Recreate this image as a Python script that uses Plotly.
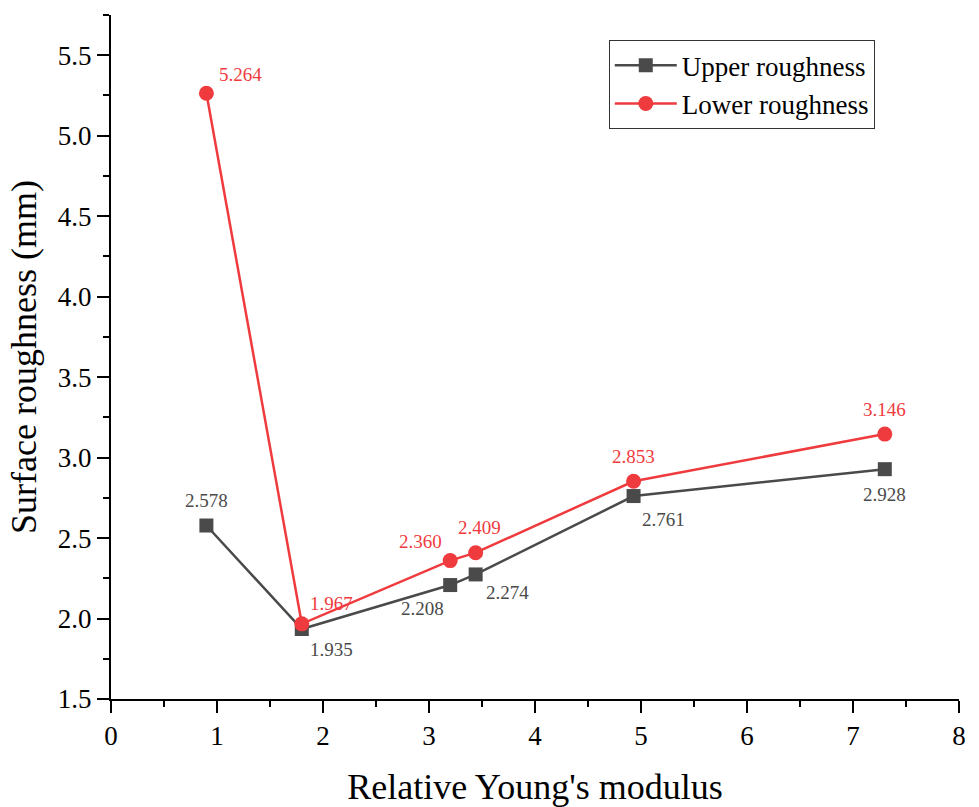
import plotly.graph_objects as go

# Relative Young's modulus and measured surface roughness
modulus = [0.9, 1.8, 3.2, 3.44, 4.93, 7.3]
upper_roughness = [2.578, 1.935, 2.208, 2.274, 2.761, 2.928]
lower_roughness = [5.264, 1.967, 2.360, 2.409, 2.853, 3.146]

GRAY = "#4a4a4a"
RED = "#ef3b3e"
FONT = "Liberation Serif, Times New Roman, serif"

fig = go.Figure()
fig.add_trace(go.Scatter(
    x=modulus, y=upper_roughness, mode="lines+markers", name="Upper roughness",
    line=dict(color=GRAY, width=2.5),
    marker=dict(symbol="square", size=14, color=GRAY),
))
fig.add_trace(go.Scatter(
    x=modulus, y=lower_roughness, mode="lines+markers", name="Lower roughness",
    line=dict(color=RED, width=2.5),
    marker=dict(symbol="circle", size=15, color=RED),
))

# value labels: pixel offsets (dx, dy) from each point
upper_offsets = [(0, 25), (30, -21), (-28, -23), (32, -18), (30, -23), (0, -25)]
lower_offsets = [(34, 19), (30, 20), (-30, 19), (4, 25), (0, 25), (0, 25)]

for xs, ys, offs, color in [
    (modulus, upper_roughness, upper_offsets, GRAY),
    (modulus, lower_roughness, lower_offsets, RED),
]:
    for xv, yv, (dx, dy) in zip(xs, ys, offs):
        fig.add_annotation(
            x=xv, y=yv, text=f"{yv:.3f}", showarrow=False,
            xshift=dx, yshift=dy,
            font=dict(family=FONT, size=19, color=color),
        )

axis_common = dict(
    showline=True, linecolor="black", linewidth=2,
    ticks="outside", ticklen=12, tickwidth=2, tickcolor="black",
    showgrid=False, zeroline=False, mirror=False,
    tickfont=dict(family=FONT, size=27, color="black"),
    title_font=dict(family=FONT, size=36, color="black"),
    automargin=False,
)

fig.update_layout(
    width=979, height=807,
    margin=dict(l=111, r=20, t=15, b=108),
    paper_bgcolor="white", plot_bgcolor="white",
    xaxis=dict(
        range=[0, 8], dtick=1, title=dict(text="Relative Young's modulus", standoff=24),
        minor=dict(ticks="outside", ticklen=6, tickwidth=2, dtick=0.5, tickcolor="black"),
        **axis_common,
    ),
    yaxis=dict(
        range=[1.5, 5.75], tick0=1.5, dtick=0.5, tickformat=".1f",
        title=dict(text="Surface roughness (mm)", standoff=10),
        minor=dict(ticks="outside", ticklen=6, tickwidth=2, dtick=0.25, tickcolor="black"),
        **axis_common,
    ),
    legend=dict(
        x=0.587, y=0.963, xanchor="left", yanchor="top",
        bordercolor="#333333", borderwidth=1, bgcolor="white",
        font=dict(family=FONT, size=27, color="black"),
        itemwidth=62, tracegroupgap=0,
    ),
    showlegend=True,
)

fig.write_html("out.html")
